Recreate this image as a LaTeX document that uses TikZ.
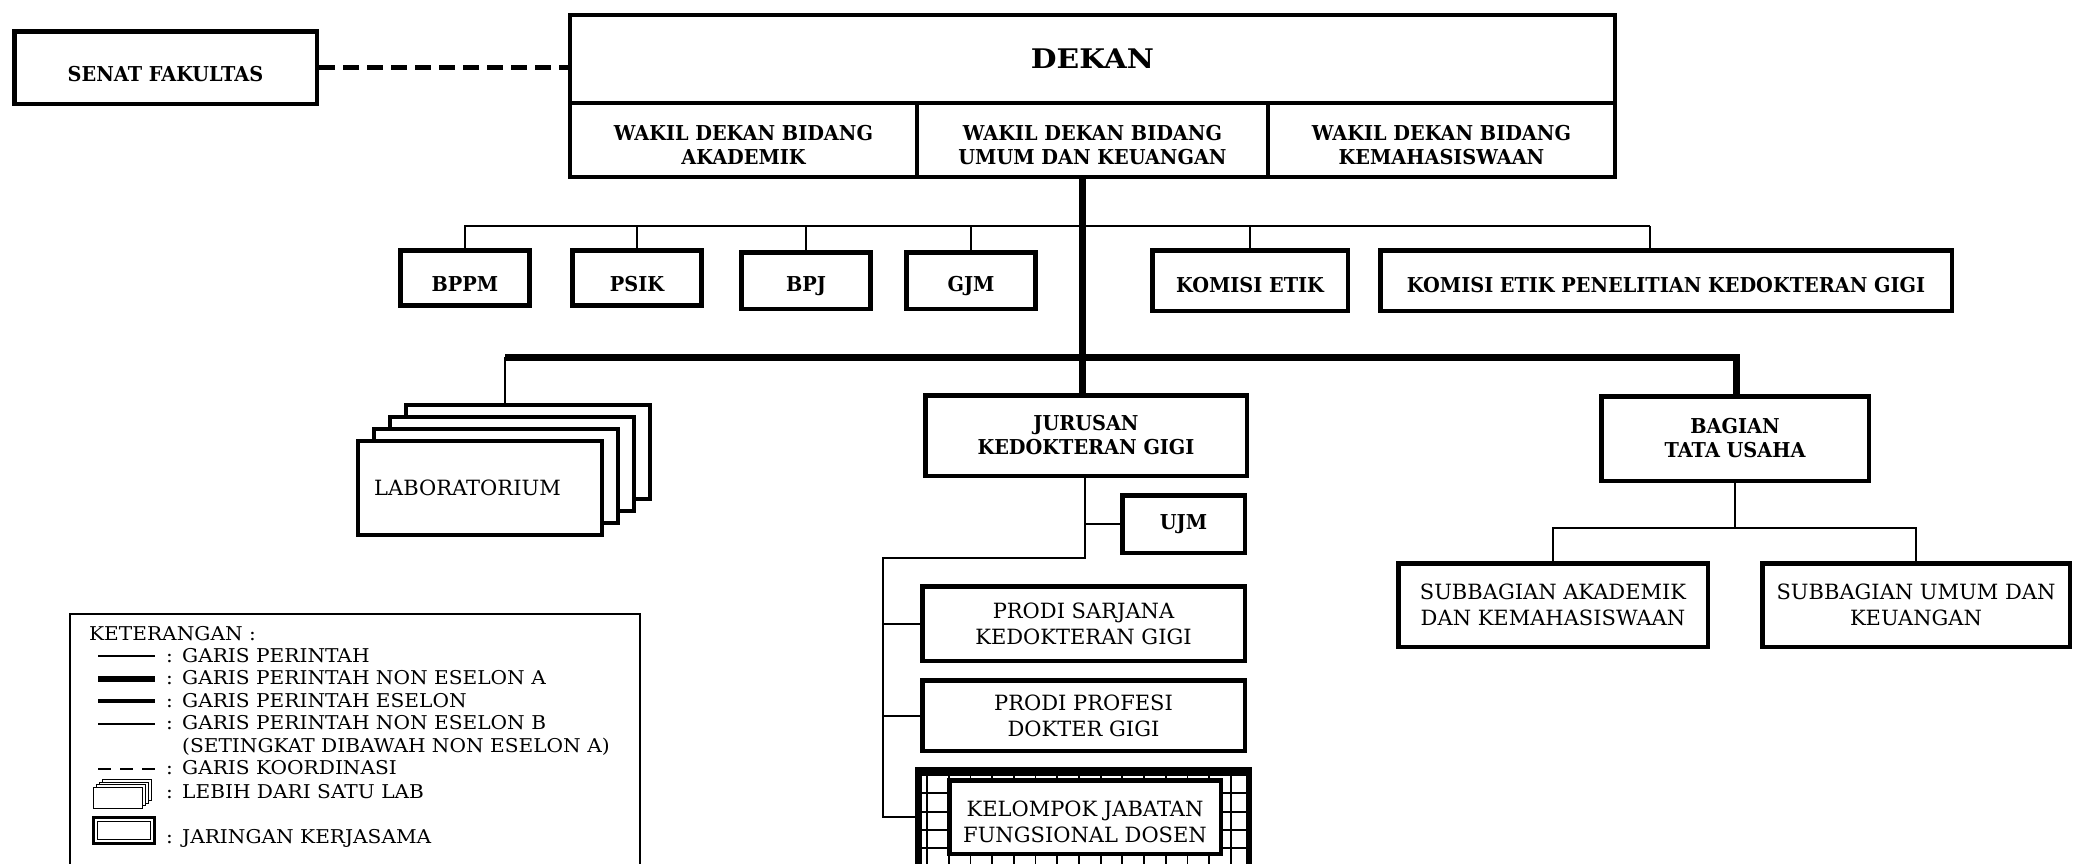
\documentclass[tikz,border=0pt]{standalone}
\usepackage{fontspec}
\setmainfont{DejaVu Serif}
\newfontfamily\bcond{DejaVu Serif}[FakeStretch=0.94]
\newfontfamily\bwide{DejaVu Serif}[FakeStretch=1.1]
\newfontfamily\legf{DejaVu Serif}[FakeStretch=1.06]
\begin{document}
\begin{tikzpicture}[x=1pt,y=-1pt,
  box/.style={draw, line width=4.5pt, fill=white, inner sep=0pt, align=center,
    font=\fontsize{21}{26}\selectfont},
  bbox/.style={box, font=\bcond\bfseries\fontsize{20.5}{24}\selectfont},
  btxt/.style={inner sep=0pt, align=center, font=\bcond\bfseries\fontsize{20.5}{24}\selectfont},
  ntxt/.style={inner sep=0pt, align=center, font=\fontsize{21}{26}\selectfont},
  layer/.style={draw, line width=4.5pt, fill=white, inner sep=0pt,
    minimum width=244, minimum height=94},
  thinl/.style={line width=2pt},
  thickl/.style={line width=7pt},
  legtext/.style={anchor=base west, inner sep=0pt, font=\legf\fontsize{19}{22.5}\selectfont}
]
\useasboundingbox (0,0) rectangle (2073,863);
\clip (0,0) rectangle (2073,863);

% top
\node[bbox, minimum width=302.5, minimum height=72.5] (senat) at (165.5,67.5) {};
\node[btxt] (senatt) at ([yshift=-6.5pt]senat.center) {SENAT FAKULTAS};
\node[bbox, font=\bwide\bfseries\fontsize{27}{30}\selectfont, minimum width=1045, minimum height=88] (dekan) at (1092.5,59) {DEKAN};
\node[bbox, minimum width=347, minimum height=74] (wa) at (743.5,140) {};
\node[bbox, minimum width=351, minimum height=74] (wb) at (1092.5,140) {};
\node[bbox, minimum width=347, minimum height=74] (wc) at (1441.5,140) {};
\node[btxt] (wat) at ([yshift=-5pt]wa.center) {WAKIL DEKAN BIDANG\\AKADEMIK};
\node[btxt] (wbt) at ([yshift=-5pt]wb.center) {WAKIL DEKAN BIDANG\\UMUM DAN KEUANGAN};
\node[btxt] (wct) at ([yshift=-5pt]wc.center) {WAKIL DEKAN BIDANG\\KEMAHASISWAAN};
\draw[line width=5pt, dash pattern=on 16pt off 8pt] (senat.east) -- (senat.east -| dekan.west);

% row 1
\node[bbox, minimum width=129, minimum height=55] (bppm) at (465,278) {};
\node[bbox, minimum width=129, minimum height=55] (psik) at (637,278) {};
\node[bbox, minimum width=129, minimum height=56.5] (bpj) at (806,280.5) {};
\node[bbox, minimum width=129, minimum height=56.5] (gjm) at (971,280.5) {};
\node[bbox, minimum width=195.5, minimum height=60.5] (ke) at (1250,280.5) {};
\node[bbox, minimum width=571.5, minimum height=60.5] (kepkg) at (1666,280.5) {};
\node[btxt] (bppmt) at ([yshift=-6pt]bppm.center) {BPPM};
\node[btxt] (psikt) at ([yshift=-6pt]psik.center) {PSIK};
\node[btxt] (bpjt) at ([yshift=-6pt]bpj.center) {BPJ};
\node[btxt] (gjmt) at ([yshift=-6pt]gjm.center) {GJM};
\node[btxt] (ket) at ([yshift=-5pt]ke.center) {KOMISI ETIK};
\node[btxt] (kepkgt) at ([yshift=-5pt]kepkg.center) {KOMISI ETIK PENELITIAN KEDOKTERAN GIGI};
\coordinate (r1l) at (464,226);
\coordinate (r1r) at (1650,226);
\draw[thinl] (r1l) -- (r1r);
\foreach \n in {bppm,psik,bpj,gjm,ke} \draw[thinl] (\n.north) -- (\n.north |- r1l);
\draw[thinl] (r1r) -- (r1r |- kepkg.north);

% row 2
\node[layer] (lab3) at (528,452) {};
\node[layer] (lab2) at (512,464) {};
\node[layer] (lab1) at (496,476) {};
\node[layer, font=\fontsize{21}{26}\selectfont] (lab0) at (480,488) {LABORATORIUM\hspace*{25pt}};
\node[bbox, minimum width=321.5, minimum height=80.5] (jur) at (1086,435.5) {JURUSAN\\KEDOKTERAN GIGI};
\node[bbox, minimum width=267.5, minimum height=84.5] (bag) at (1735,438.5) {BAGIAN\\TATA USAHA};
\coordinate (t0) at (1082,0);
\draw[thickl] (t0 |- wb.south) -- (t0 |- jur.north);
\coordinate (r2l) at (505,357);
\coordinate (r2r) at (1736,357);
\draw[thickl] (r2l) -- (r2r) -- (r2r |- bag.north);
\draw[thinl] (r2l) -- (r2l |- lab3.north);

% jurusan branch
\node[bbox, minimum width=122.5, minimum height=57.5] (ujm) at (1183.5,524) {UJM};
\node[box, minimum width=322.5, minimum height=74.5] (sar) at (1083.5,623.5) {PRODI SARJANA\\KEDOKTERAN GIGI};
\node[box, minimum width=322.5, minimum height=70.5] (pro) at (1083.5,715.5) {PRODI PROFESI\\DOKTER GIGI};
\node[draw, line width=4.5pt, fill=white, inner sep=0pt, minimum width=328.5, minimum height=120, anchor=north] (kelo) at (1083.5,769.25) {};
\begin{scope}
  \clip (kelo.south west) rectangle (kelo.north east);
  \foreach \gx in {0,...,15} \draw[line width=1.8pt] (927+21.7*\gx,760) -- ++(0,130);
  \foreach \gy in {0,...,6} \draw[line width=1.8pt] (900,775+18.3*\gy) -- ++(370,0);
\end{scope}
\draw[line width=4.5pt] (kelo.south west) rectangle (kelo.north east);
\node[box, minimum width=271.5, minimum height=73.5] (kel) at (1085,817) {};
\node[ntxt] (kelt) at ([yshift=-5pt]kel.center) {KELOMPOK JABATAN\\FUNGSIONAL DOSEN};
\coordinate (j0) at (1085,558);
\coordinate (j1) at (883,558);
\draw[thinl] (jur.south -| j0) -- (j0) -- (j1) -- (j1 |- kel.west) -- (kelo.west |- kel.west);
\draw[thinl] (ujm.west) -- (ujm.west -| j0);
\draw[thinl] (sar.west) -- (sar.west -| j1);
\draw[thinl] (pro.west) -- (pro.west -| j1);

% bagian branch
\node[box, minimum width=309.5, minimum height=83.5] (sa) at (1553,605) {SUBBAGIAN AKADEMIK\\DAN KEMAHASISWAAN};
\node[box, minimum width=307.5, minimum height=83.5] (su) at (1916,605) {SUBBAGIAN UMUM DAN\\KEUANGAN};
\coordinate (b0) at (1735,528);
\draw[thinl] (bag.south) -- (b0);
\draw[thinl] (sa.north) |- (b0) -| (su.north);

% legend
\node[draw, line width=2pt, inner sep=0pt, minimum width=570, minimum height=280, anchor=north west] (leg) at (69,613) {};
\node[legtext] (k0) at (89,640.5) {KETERANGAN :};
\node[legtext] (k1) at (166,662.5) {\makebox[16pt][l]{:}GARIS PERINTAH};
\node[legtext] (k2) at (166,684.5) {\makebox[16pt][l]{:}GARIS PERINTAH NON ESELON A};
\node[legtext] (k3) at (166,707.5) {\makebox[16pt][l]{:}GARIS PERINTAH ESELON};
\node[legtext] (k4) at (166,729.5) {\makebox[16pt][l]{:}GARIS PERINTAH NON ESELON B};
\node[legtext] (k5) at (182,752.5) {(SETINGKAT DIBAWAH NON ESELON A)};
\node[legtext] (k6) at (166,774.5) {\makebox[16pt][l]{:}GARIS KOORDINASI};
\node[legtext] (k7) at (166,798.5) {\makebox[16pt][l]{:}LEBIH DARI SATU LAB};
\node[legtext] (k8) at (166,843.5) {\makebox[16pt][l]{:}JARINGAN KERJASAMA};
\draw[line width=2pt] (98,656) -- (155,656);
\draw[line width=6pt] (98,679) -- (155,679);
\draw[line width=4.5pt] (98,701) -- (155,701);
\draw[line width=1.8pt] (98,724) -- (155,724);
\draw[line width=2.5pt, dash pattern=on 13pt off 9pt] (98,769) -- (155,769);
\foreach \i in {3,2,1,0}
  \draw[line width=0.8pt, fill=white] (93+3*\i,787-2.5*\i) rectangle ++(49,21);
\draw[line width=3pt] (93,817) rectangle (154,843);
\draw[line width=1pt] (97,821) rectangle (150,839);
\end{tikzpicture}
\end{document}
